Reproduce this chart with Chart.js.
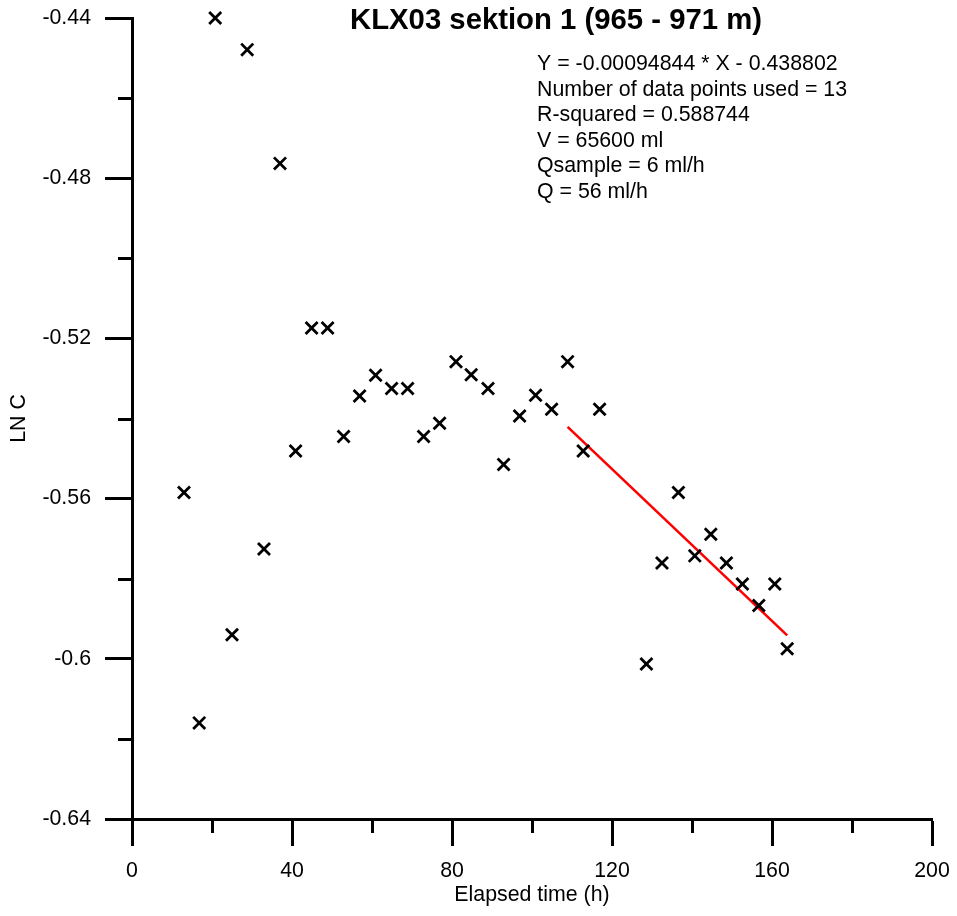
<!DOCTYPE html>
<html>
<head>
<meta charset="utf-8">
<title>KLX03 sektion 1 (965 - 971 m)</title>
<script src="https://cdn.jsdelivr.net/npm/chart.js@4.4.1/dist/chart.umd.min.js"></script>
<style>
  html, body { margin: 0; padding: 0; background: #ffffff; }
  #wrap { width: 957px; height: 916px; position: relative; }
</style>
</head>
<body>
<div id="wrap"><canvas id="chart" width="957" height="916"></canvas></div>
<script>
// Elapsed time (h) of each sample
const hours = [
  13.0, 16.8, 20.8, 25.0, 28.8, 33.0, 37.0, 40.9, 44.9, 48.9,
  52.9, 56.9, 60.9, 64.9, 68.9, 72.9, 76.9, 81.0, 84.8, 89.0,
  92.9, 96.9, 100.9, 104.9, 108.9, 112.8, 116.9, 128.6, 132.5, 136.6,
  140.7, 144.7, 148.6, 152.6, 156.7, 160.7, 163.8
];
// ln of tracer concentration
const lnC = [
  -0.5585, -0.6160, -0.4400, -0.5940, -0.4479, -0.5726, -0.4763, -0.5481, -0.5174, -0.5174,
  -0.5445, -0.5344, -0.5292, -0.5325, -0.5325, -0.5445, -0.5412, -0.5258, -0.5291, -0.5325,
  -0.5515, -0.5394, -0.5342, -0.5377, -0.5258, -0.5481, -0.5377, -0.6013, -0.5761, -0.5585,
  -0.5743, -0.5689, -0.5761, -0.5813, -0.5867, -0.5813, -0.5975
];

// Regression result for the last part of the series
const SLOPE = -0.00094844;
const INTERCEPT = -0.438802;
const N_USED = 13;
const R_SQUARED = 0.588744;
const V_ML = 65600;
const Q_SAMPLE = 6;
const Q_FLOW = 56;

// Axis ticks
const X_TICKS = [0, 40, 80, 120, 160, 200];
const X_MINOR = [20, 60, 100, 140, 180];
const Y_TICKS = [-0.64, -0.6, -0.56, -0.52, -0.48, -0.44];
const Y_MINOR = [-0.62, -0.58, -0.54, -0.5, -0.46];

const TITLE = 'KLX03 sektion 1 (965 - 971 m)';
const FONT = "'Liberation Sans', Arial, Helvetica, sans-serif";

const points = hours.map((h, i) => ({ x: h, y: lnC[i] }));
const fitHours = hours.slice(-N_USED);
const fitX = [Math.min(...fitHours), Math.max(...fitHours)];
const fitLine = fitX.map(x => ({ x: x, y: SLOPE * x + INTERCEPT }));

const infoLines = [
  'Y = ' + SLOPE + ' * X - ' + (-INTERCEPT),
  'Number of data points used = ' + N_USED,
  'R-squared = ' + R_SQUARED,
  'V = ' + V_ML + ' ml',
  'Qsample = ' + Q_SAMPLE + ' ml/h',
  'Q = ' + Q_FLOW + ' ml/h'
];

// Half-step tick marks and the text block
const extras = {
  id: 'extras',
  afterDraw(chart) {
    const { ctx, chartArea, scales } = chart;
    ctx.save();
    ctx.strokeStyle = '#000';
    ctx.lineWidth = 3;
    ctx.lineCap = 'butt';
    ctx.beginPath();
    X_MINOR.forEach(v => {
      const px = Math.round(scales.x.getPixelForValue(v)) + 0.5;
      ctx.moveTo(px, chartArea.bottom);
      ctx.lineTo(px, chartArea.bottom + 14);
    });
    Y_MINOR.forEach(v => {
      const py = Math.round(scales.y.getPixelForValue(v)) + 0.5;
      ctx.moveTo(chartArea.left - 14, py);
      ctx.lineTo(chartArea.left, py);
    });
    ctx.stroke();

    ctx.fillStyle = '#000';
    ctx.textAlign = 'center';
    ctx.textBaseline = 'alphabetic';
    ctx.font = 'bold 29.3px ' + FONT;
    ctx.fillText(TITLE, 556, 28.5);

    ctx.textAlign = 'left';
    ctx.font = '21.33px ' + FONT;
    infoLines.forEach((t, i) => ctx.fillText(t, 537, 70 + i * 25.6));
    ctx.restore();
  }
};

const axisFont = { family: FONT, size: 21.33 };

new Chart(document.getElementById('chart'), {
  type: 'scatter',
  data: {
    datasets: [
      {
        label: 'LN C',
        data: points,
        pointStyle: 'crossRot',
        pointRadius: 8.5,
        pointHoverRadius: 8.5,
        pointBorderWidth: 2.8,
        borderColor: '#000',
        backgroundColor: '#000',
        showLine: false,
        clip: false
      },
      {
        label: 'Fit',
        type: 'line',
        data: fitLine,
        borderColor: '#ff0000',
        borderWidth: 2.6,
        pointRadius: 0,
        fill: false,
        clip: false
      }
    ]
  },
  options: {
    responsive: false,
    devicePixelRatio: 1,
    animation: false,
    layout: { padding: { top: 18, right: 25, bottom: 0, left: 0 } },
    plugins: {
      legend: { display: false },
      tooltip: { enabled: false },
      title: { display: false }
    },
    scales: {
      x: {
        type: 'linear',
        min: 0,
        max: 200,
        afterBuildTicks: s => { s.ticks = X_TICKS.map(v => ({ value: v })); },
        afterFit: s => { s.height = 97; s.paddingLeft = 0; s.paddingRight = 0; },
        ticks: { callback: v => String(v), font: axisFont, color: '#000', padding: 12, maxRotation: 0, autoSkip: false },
        grid: { display: true, drawOnChartArea: false, drawTicks: true, tickLength: 27, tickWidth: 3, tickColor: '#000' },
        border: { display: true, width: 3, color: '#000' },
        title: { display: true, text: 'Elapsed time (h)', font: axisFont, color: '#000', padding: { top: 4, bottom: 8 } }
      },
      y: {
        type: 'linear',
        min: -0.64,
        max: -0.44,
        afterBuildTicks: s => { s.ticks = Y_TICKS.map(v => ({ value: v })); },
        afterFit: s => { s.width = 132; s.paddingTop = 0; s.paddingBottom = 0; },
        ticks: { callback: v => String(v), font: axisFont, color: '#000', padding: 14, autoSkip: false },
        grid: { display: true, drawOnChartArea: false, drawTicks: true, tickLength: 27, tickWidth: 3, tickColor: '#000' },
        border: { display: true, width: 3, color: '#000' },
        title: { display: true, text: 'LN C', font: axisFont, color: '#000', padding: { top: 6, bottom: 4 } }
      }
    }
  },
  plugins: [extras]
});
</script>
</body>
</html>
